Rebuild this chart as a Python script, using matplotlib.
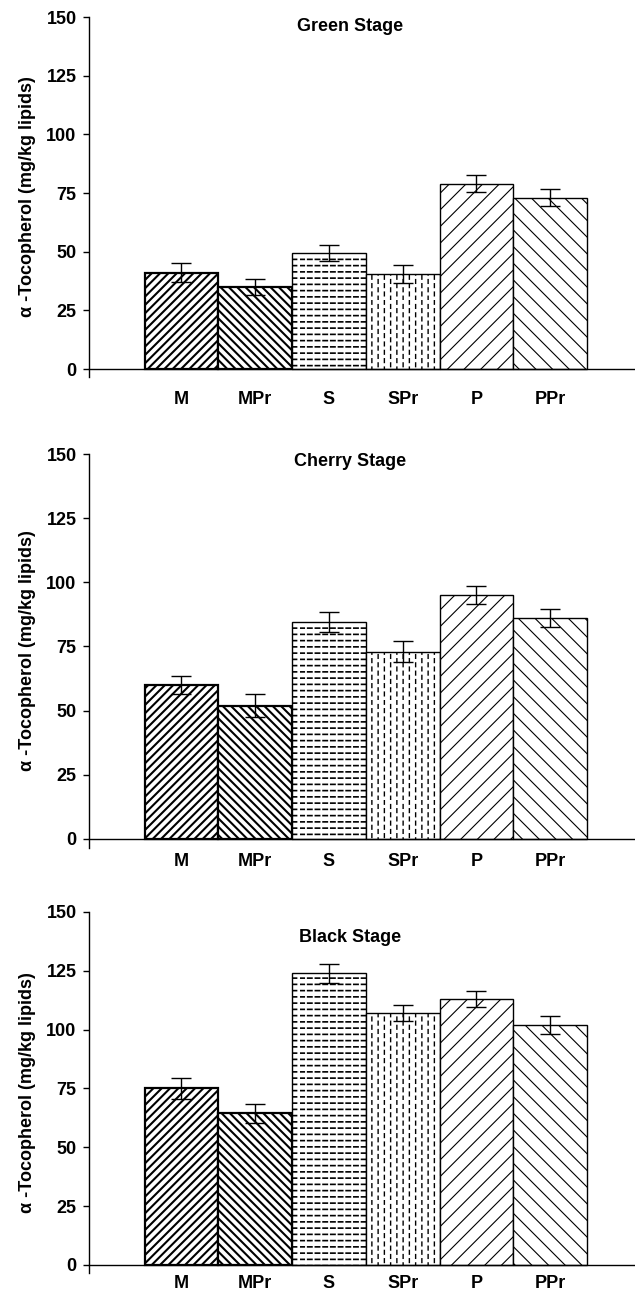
import warnings
import numpy as np
import matplotlib
matplotlib.use("Agg")
import matplotlib.pyplot as plt
from matplotlib import hatch as mhatch
from matplotlib.path import Path

warnings.filterwarnings("ignore")

# ---------------- data ----------------
categories = ['M', 'MPr', 'S', 'SPr', 'P', 'PPr']
stages = ['Green Stage', 'Cherry Stage', 'Black Stage']
green = [41, 35, 49.5, 40.5, 79, 73]
green_err = [4, 3.5, 3.5, 4, 3.5, 3.5]
cherry = [60, 52, 84.5, 73, 95, 86]
cherry_err = [3.5, 4.3, 4, 4, 3.5, 3.5]
black = [75, 64.5, 124, 107, 113, 102]
black_err = [4.5, 4, 4, 3.5, 3.5, 4]
yticks = [0, 25, 50, 75, 100, 125, 150]
ylabel = 'α -Tocopherol (mg/kg lipids)'


# ---------------- custom dashed hatches ----------------
class DashedHorizontal(mhatch.HatchPatternBase):
    """'h' : rows of short horizontal dashes."""
    def __init__(self, hatch, density):
        n = hatch.count('h')
        self.rows = 16 * n
        self.cols = 13
        self.num_vertices = self.rows * self.cols * 2

    def set_vertices_and_codes(self, vertices, codes):
        k = 0
        for r in range(self.rows):
            y = (r + 0.5) / self.rows
            for c in range(self.cols):
                x0 = c / self.cols
                x1 = x0 + 0.55 / self.cols
                vertices[k] = (x0, y)
                vertices[k + 1] = (x1, y)
                codes[k] = Path.MOVETO
                codes[k + 1] = Path.LINETO
                k += 2


class DashedVertical(mhatch.HatchPatternBase):
    """'v' : columns of short vertical dashes, staggered."""
    def __init__(self, hatch, density):
        n = hatch.count('v')
        self.cols = 16 * n
        self.rows = 12
        self.num_vertices = self.rows * self.cols * 2

    def set_vertices_and_codes(self, vertices, codes):
        k = 0
        for c in range(self.cols):
            x = (c + 0.5) / self.cols
            off = 0.5 if c % 2 else 0.0
            for r in range(self.rows):
                y0 = ((r + off) % self.rows) / self.rows
                y1 = y0 + 0.45 / self.rows
                vertices[k] = (x, y0)
                vertices[k + 1] = (x, y1)
                codes[k] = Path.MOVETO
                codes[k + 1] = Path.LINETO
                k += 2


mhatch._hatch_types.append(DashedHorizontal)
mhatch._hatch_types.append(DashedVertical)

# ---------------- styles ----------------
plt.rcParams['font.family'] = ['Liberation Sans', 'DejaVu Sans']
plt.rcParams['font.weight'] = 'bold'
plt.rcParams['font.size'] = 13

hatches = ['////', '\\\\\\\\', 'h', 'v', '//', '\\\\']
edge_lw = [1.6, 1.6, 1.0, 1.0, 1.0, 1.0]
hatch_lw = [1.5, 1.5, 1.2, 1.0, 0.8, 0.8]

fig = plt.figure(figsize=(6.35, 12.92), dpi=100)
H = 1292.0
W = 635.0

# (top px, zero px, bottom px)
panel_px = [(17, 369, 377), (454, 839, 847.7), (912, 1265, 1273)]
ylow = -3.4
label_pads = [15.6, 10.4, 7.0]
title_y = [146, 147, 139]

values = [green, cherry, black]
errors = [green_err, cherry_err, black_err]

left = 89 / W
width = 1 - left
x = np.arange(len(categories))

for i, (vals, errs) in enumerate(zip(values, errors)):
    top, zero, bot = panel_px[i]
    ax = fig.add_axes([left, (H - bot) / H, width, (bot - top) / H])
    for j in range(len(categories)):
        with plt.rc_context({'hatch.linewidth': hatch_lw[j], 'hatch.color': 'black'}):
            bars = ax.bar(x[j], vals[j], width=1.0, color='white',
                          edgecolor='black', linewidth=edge_lw[j],
                          hatch=hatches[j], zorder=2)
        for b in bars:
            if hasattr(b, 'set_hatch_linewidth'):
                b.set_hatch_linewidth(hatch_lw[j])
    ax.errorbar(x, vals, yerr=errs, fmt='none', ecolor='black',
                elinewidth=1.0, capsize=7, capthick=1.0, zorder=3)

    ax.set_xlim(-1.253, 6.15)
    ax.set_ylim(ylow, 150)
    ax.set_yticks(yticks)
    ax.set_yticklabels([str(t) for t in yticks], fontweight='bold', fontsize=13)
    ax.set_xticks(x)
    ax.set_xticklabels(categories, fontweight='bold', fontsize=13)
    ax.tick_params(axis='x', length=0, pad=label_pads[i])
    ax.tick_params(axis='y', length=4, width=1.0, pad=5, direction='out')

    ax.spines['top'].set_visible(False)
    ax.spines['right'].set_visible(False)
    ax.spines['bottom'].set_position(('data', 0))
    ax.spines['bottom'].set_linewidth(1.0)
    ax.spines['left'].set_linewidth(1.0)
    ax.spines['left'].set_bounds(ylow, 150)
    ax.patch.set_visible(False)

    ax.text(2.29, title_y[i], stages[i], ha='center', va='center',
            fontsize=13, fontweight='bold')

    fig.text(28 / W, 1 - ((top + bot) / 2) / H, ylabel, rotation=90,
             ha='center', va='center', fontsize=13, fontweight='bold')

fig.savefig('out.png', dpi=100)
